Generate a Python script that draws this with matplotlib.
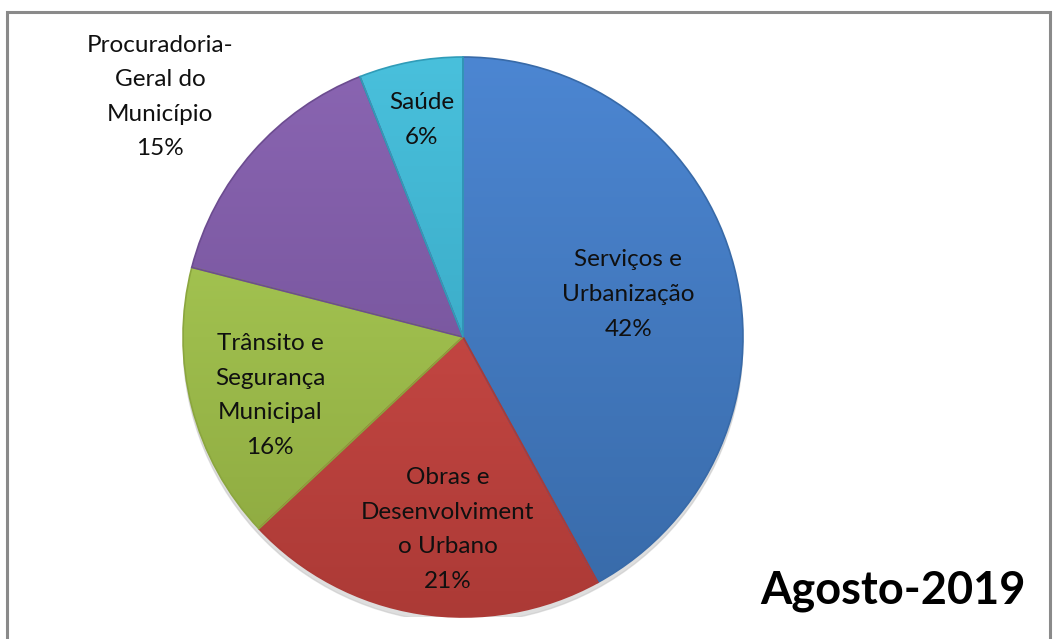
import matplotlib.pyplot as plt
import numpy as np
from matplotlib.patches import Rectangle
from matplotlib.colors import LinearSegmentedColormap

# Dados
categorias = ['Serviços e\nUrbanização', 'Obras e\nDesenvolviment\no Urbano',
              'Trânsito e\nSegurança\nMunicipal', 'Procuradoria-\nGeral do\nMunicípio', 'Saúde']
valores = [42, 21, 16, 15, 6]
cores_claras = ['#4c86d2', '#d8514d', '#afd25a', '#8a65b2', '#49c0dc']
cores_escuras = ['#386aa8', '#ac3a36', '#8ba63e', '#6c4c90', '#309cb8']
# posição de cada rótulo: distância (fração do raio) e desvio angular (graus)
dist_rotulos = [0.61, 0.69, 0.72, 1.38, 0.79]
desvio_rotulos = [0, 4.5, 2.5, 3, 0]
titulo = 'Agosto-2019'

plt.rcParams['font.family'] = ['Lato', 'DejaVu Sans']

W, H = 1054, 639
fig = plt.figure(figsize=(W / 100, H / 100), dpi=100)

# moldura do gráfico
fig.patches.append(Rectangle((7 / W, -0.02), (1050 - 7) / W, 1 - 12 / H + 0.02,
                             transform=fig.transFigure, fill=False,
                             edgecolor='#8a8a8a', linewidth=2.2))

cx, cy, r = 463, 337, 280
ax = fig.add_axes([(cx - r) / W, (H - cy - r) / H, 2 * r / W, 2 * r / H])

wedges, _ = ax.pie(valores, startangle=90, counterclock=False, radius=1,
                   colors=cores_claras,
                   wedgeprops=dict(linewidth=1.2, edgecolor='#505050'))

# preenchimento em gradiente (estilo Excel)
grad = np.linspace(0, 1, 256).reshape(-1, 1)
for w, c1, c2 in zip(wedges, cores_claras, cores_escuras):
    cmap = LinearSegmentedColormap.from_list('g', [c1, c2])
    im = ax.imshow(grad, extent=[-1, 1, -1, 1], cmap=cmap, origin='upper',
                   aspect='auto', zorder=w.get_zorder() - 0.1)
    im.set_clip_path(w)
    w.set_facecolor('none')
    w.set_edgecolor(c2)

# sombra leve embaixo
ax.add_patch(plt.Circle((0.0, -0.02), 1.0, color='#c8c8c8', zorder=0.5, alpha=0.6))

# rótulos
for w, cat, v, d, da in zip(wedges, categorias, valores, dist_rotulos, desvio_rotulos):
    ang = np.deg2rad((w.theta1 + w.theta2) / 2 + da)
    ax.text(d * np.cos(ang), d * np.sin(ang), f'{cat}\n{v}%', ha='center', va='center',
            fontsize=17.5, linespacing=1.8, color='#101010')

ax.set_xlim(-1, 1)
ax.set_ylim(-1, 1)
ax.axis('off')

fig.text(1026 / W, 1 - 591 / H, titulo, ha='right', va='center', fontsize=32.5,
         fontweight='bold', color='black')

plt.savefig('out.png', dpi=100)
